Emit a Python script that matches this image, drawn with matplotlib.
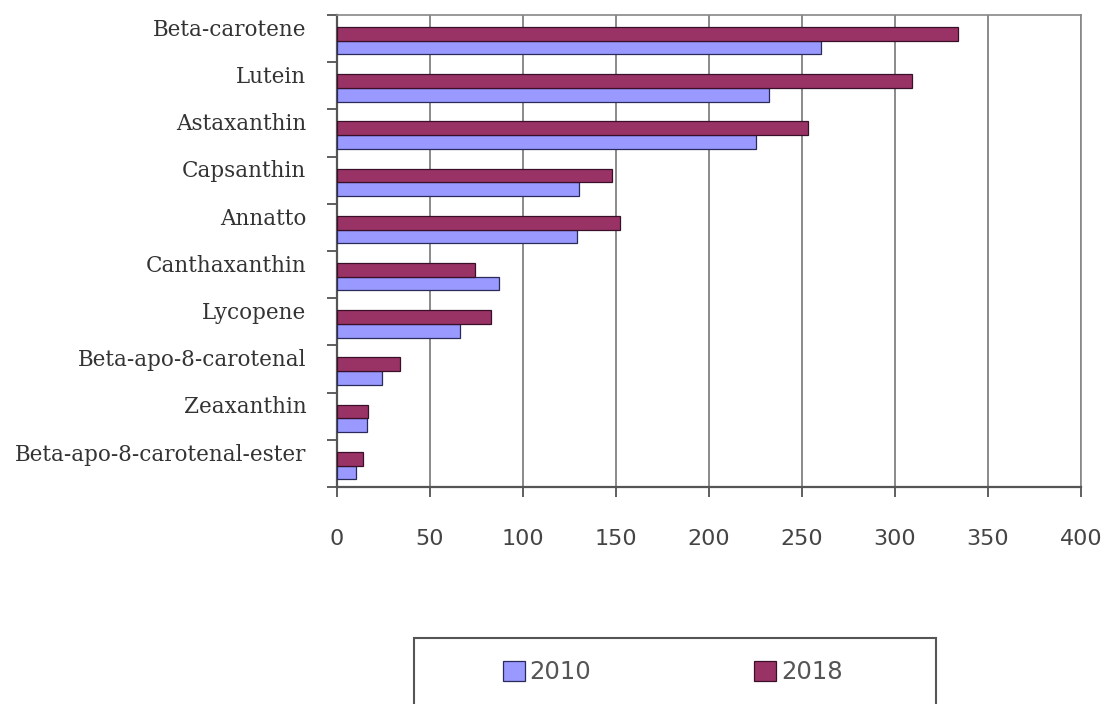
from matplotlib import pyplot as plt
from matplotlib.patches import Rectangle
import numpy as np

categories = ["Beta-carotene", "Lutein", "Astaxanthin", "Capsanthin", "Annatto",
              "Canthaxanthin", "Lycopene", "Beta-apo-8-carotenal", "Zeaxanthin",
              "Beta-apo-8-carotenal-ester"]
values_2010 = [260, 232, 225, 130, 129, 87, 66, 24, 16, 10]
values_2018 = [334, 309, 253, 148, 152, 74, 83, 34, 16.5, 14]
x_ticks = [0, 50, 100, 150, 200, 250, 300, 350, 400]

def main():
    fig = plt.figure(figsize=(11.1, 7.04), dpi=100)
    ax = fig.add_axes([337 / 1110, 1 - 487 / 704, (1081 - 337) / 1110, (487 - 15) / 704])

    y = np.arange(len(categories))
    h = 0.29
    ax.barh(y + 0.19, values_2010, height=h, color="#9999ff", edgecolor="#2a2a5a",
            linewidth=0.9, label="2010", zorder=3)
    ax.barh(y - 0.10, values_2018, height=h, color="#993366", edgecolor="#3a1028",
            linewidth=0.9, label="2018", zorder=3)

    ax.set_xlim(0, 400)
    ax.set_ylim(len(categories) - 0.5, -0.5)
    ax.set_xticks(x_ticks)
    ax.set_xticklabels([str(t) for t in x_ticks], fontsize=16, family="DejaVu Sans",
                       color="#444444")
    ax.tick_params(axis="x", length=7, width=1.2, color="#444444", pad=23)

    # labels sit in the upper part of each category band
    ax.set_yticks(y - 0.24)
    ax.set_yticklabels(categories, fontsize=15.5, family="DejaVu Serif", color="#333333")
    ax.tick_params(axis="y", which="major", length=0, pad=22)
    ax.set_yticks(np.arange(-0.5, len(categories), 1.0), minor=True)
    ax.tick_params(axis="y", which="minor", length=7, width=1.2, color="#444444")

    ax.grid(axis="x", color="#777777", linewidth=1.2, zorder=0)
    for side in ["left", "bottom"]:
        ax.spines[side].set_color("#555555")
        ax.spines[side].set_linewidth(1.6)
    for side in ["top", "right"]:
        ax.spines[side].set_color("#888888")
        ax.spines[side].set_linewidth(1.2)

    # legend box runs off the bottom edge
    fig.patches.append(Rectangle((414 / 1110, -0.02), (936 - 414) / 1110, (704 - 638) / 704 + 0.02,
                                 transform=fig.transFigure, fill=False,
                                 edgecolor="#555555", linewidth=1.5))
    handles, labels = ax.get_legend_handles_labels()
    fig.legend(handles, labels, ncol=2, frameon=False, loc="center left",
               bbox_to_anchor=(503 / 1110, 1 - 672 / 704), borderpad=0, borderaxespad=0,
               handlelength=0.9, handleheight=0.9, handletextpad=0.2, columnspacing=6.7,
               prop={"family": "DejaVu Sans", "size": 17.5})
    for t in fig.legends[0].get_texts():
        t.set_color("#555555")

    plt.savefig("out.png", dpi=100)

if __name__ == "__main__":
    main()
